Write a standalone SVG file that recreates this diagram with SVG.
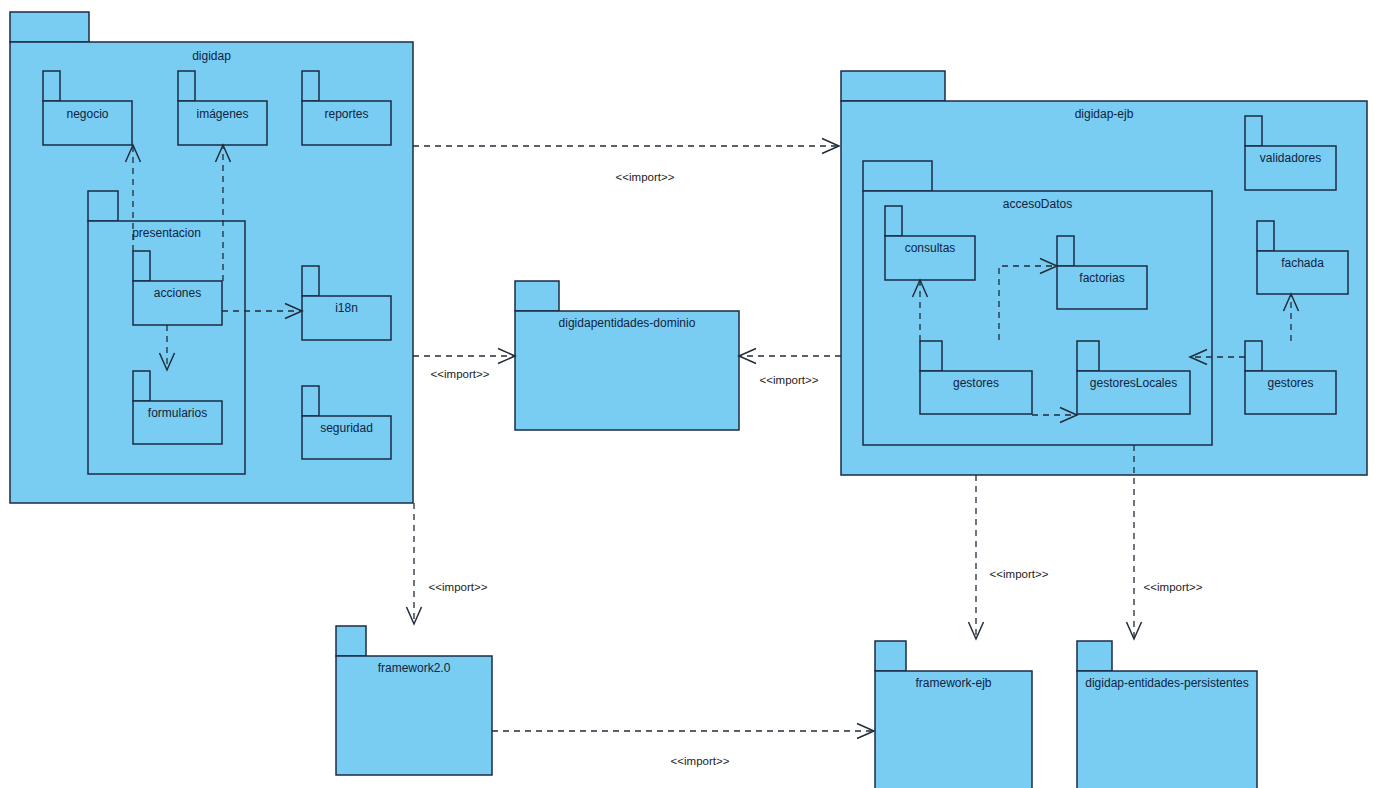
<svg xmlns="http://www.w3.org/2000/svg" width="1374" height="788" viewBox="0 0 1374 788">
<defs>
<style>
.pk rect{fill:#79cdf2;stroke:#1b2b45;stroke-width:1.5}
.pk text{font-family:"Liberation Sans",Arial,sans-serif;font-size:12px;fill:#10233f;text-anchor:middle}
.cn path{fill:none;stroke:#222c3a;stroke-width:1.3;stroke-dasharray:6,5;marker-end:url(#open)}
.lb{font-family:"Liberation Sans",Arial,sans-serif;font-size:11.5px;fill:#222;text-anchor:middle}
</style>
<marker id="open" viewBox="0 0 18 18" refX="17" refY="9" markerWidth="18" markerHeight="18" markerUnits="userSpaceOnUse" orient="auto" overflow="visible">
<path d="M0,1.5 L17,9 L0,16.5" fill="none" stroke="#222c3a" stroke-width="1.5" stroke-dasharray="none"/>
</marker>
</defs>
<rect width="1374" height="788" fill="#fff"/>

<g id="pkg-digidap" class="pk"><rect x="10" y="12" width="79" height="30"/><rect x="10" y="42" width="403" height="461"/><text x="211.5" y="60">digidap</text></g>
<g id="pkg-negocio" class="pk"><rect x="43" y="71" width="17" height="30"/><rect x="43" y="101" width="89" height="44"/><text x="87.5" y="118">negocio</text></g>
<g id="pkg-imagenes" class="pk"><rect x="178" y="71" width="17" height="30"/><rect x="178" y="101" width="89" height="44"/><text x="222.5" y="118">imágenes</text></g>
<g id="pkg-reportes" class="pk"><rect x="302" y="71" width="17" height="30"/><rect x="302" y="101" width="89" height="44"/><text x="346.5" y="118">reportes</text></g>
<g id="pkg-presentacion" class="pk"><rect x="88" y="191" width="30" height="30"/><rect x="88" y="221" width="157" height="253"/><text x="166.5" y="237">presentacion</text></g>
<g id="pkg-acciones" class="pk"><rect x="133" y="251" width="17" height="30"/><rect x="133" y="281" width="89" height="44"/><text x="177.5" y="297">acciones</text></g>
<g id="pkg-formularios" class="pk"><rect x="133" y="371" width="17" height="30"/><rect x="133" y="401" width="89" height="43"/><text x="177.5" y="417">formularios</text></g>
<g id="pkg-i18n" class="pk"><rect x="302" y="266" width="17" height="30"/><rect x="302" y="296" width="89" height="44"/><text x="346.5" y="312">i18n</text></g>
<g id="pkg-seguridad" class="pk"><rect x="302" y="386" width="17" height="30"/><rect x="302" y="416" width="89" height="43"/><text x="346.5" y="432">seguridad</text></g>

<g id="pkg-dominio" class="pk"><rect x="515" y="281" width="44" height="30"/><rect x="515" y="311" width="224" height="119"/><text x="627" y="327">digidapentidades-dominio</text></g>

<g id="pkg-ejb" class="pk"><rect x="841" y="71" width="104" height="30"/><rect x="841" y="101" width="526" height="374"/><text x="1104" y="118">digidap-ejb</text></g>
<g id="pkg-accesoDatos" class="pk"><rect x="863" y="161" width="69" height="30"/><rect x="863" y="191" width="349" height="254"/><text x="1037.5" y="208">accesoDatos</text></g>
<g id="pkg-consultas" class="pk"><rect x="885" y="206" width="17" height="30"/><rect x="885" y="236" width="90" height="44"/><text x="930" y="252">consultas</text></g>
<g id="pkg-factorias" class="pk"><rect x="1057" y="236" width="17" height="30"/><rect x="1057" y="266" width="90" height="43"/><text x="1102" y="282">factorias</text></g>
<g id="pkg-gestores-int" class="pk"><rect x="920" y="341" width="22" height="30"/><rect x="920" y="371" width="112" height="43"/><text x="976" y="387">gestores</text></g>
<g id="pkg-gestoresLocales" class="pk"><rect x="1077" y="341" width="22" height="30"/><rect x="1077" y="371" width="113" height="43"/><text x="1133.5" y="387">gestoresLocales</text></g>
<g id="pkg-validadores" class="pk"><rect x="1245" y="116" width="17" height="30"/><rect x="1245" y="146" width="91" height="44"/><text x="1290.5" y="162">validadores</text></g>
<g id="pkg-fachada" class="pk"><rect x="1257" y="221" width="17" height="30"/><rect x="1257" y="251" width="91" height="43"/><text x="1302.5" y="267">fachada</text></g>
<g id="pkg-gestores-ext" class="pk"><rect x="1245" y="341" width="17" height="30"/><rect x="1245" y="371" width="91" height="43"/><text x="1290.5" y="387">gestores</text></g>

<g id="pkg-framework2" class="pk"><rect x="336" y="626" width="30" height="30"/><rect x="336" y="656" width="156" height="119"/><text x="414" y="672">framework2.0</text></g>
<g id="pkg-framework-ejb" class="pk"><rect x="875" y="641" width="31" height="30"/><rect x="875" y="671" width="157" height="130"/><text x="953.5" y="687">framework-ejb</text></g>
<g id="pkg-persistentes" class="pk"><rect x="1077" y="641" width="35" height="30"/><rect x="1077" y="671" width="180" height="130"/><text x="1167" y="687">digidap-entidades-persistentes</text></g>

<g id="connectors" class="cn">
<path d="M413,146 H839"/>
<path d="M413,356 H515"/>
<path d="M841,356 H739"/>
<path d="M414,503 V624"/>
<path d="M492,731 H874"/>
<path d="M976,475 V639"/>
<path d="M1134,445 V639"/>
<path d="M133,251 V145"/>
<path d="M223,281 V145"/>
<path d="M222,311 H302"/>
<path d="M167,325 V370"/>
<path d="M920,341 V280"/>
<path d="M999,340 V266 H1057"/>
<path d="M1032,415 H1077"/>
<path d="M1245,357 H1190"/>
<path d="M1291,341 V294"/>
</g>
<g id="labels">
<text class="lb" x="645" y="181">&lt;&lt;import&gt;&gt;</text>
<text class="lb" x="460" y="378">&lt;&lt;import&gt;&gt;</text>
<text class="lb" x="789" y="384">&lt;&lt;import&gt;&gt;</text>
<text class="lb" x="458" y="591">&lt;&lt;import&gt;&gt;</text>
<text class="lb" x="700" y="765">&lt;&lt;import&gt;&gt;</text>
<text class="lb" x="1019" y="578">&lt;&lt;import&gt;&gt;</text>
<text class="lb" x="1173" y="591">&lt;&lt;import&gt;&gt;</text>
</g>
</svg>
